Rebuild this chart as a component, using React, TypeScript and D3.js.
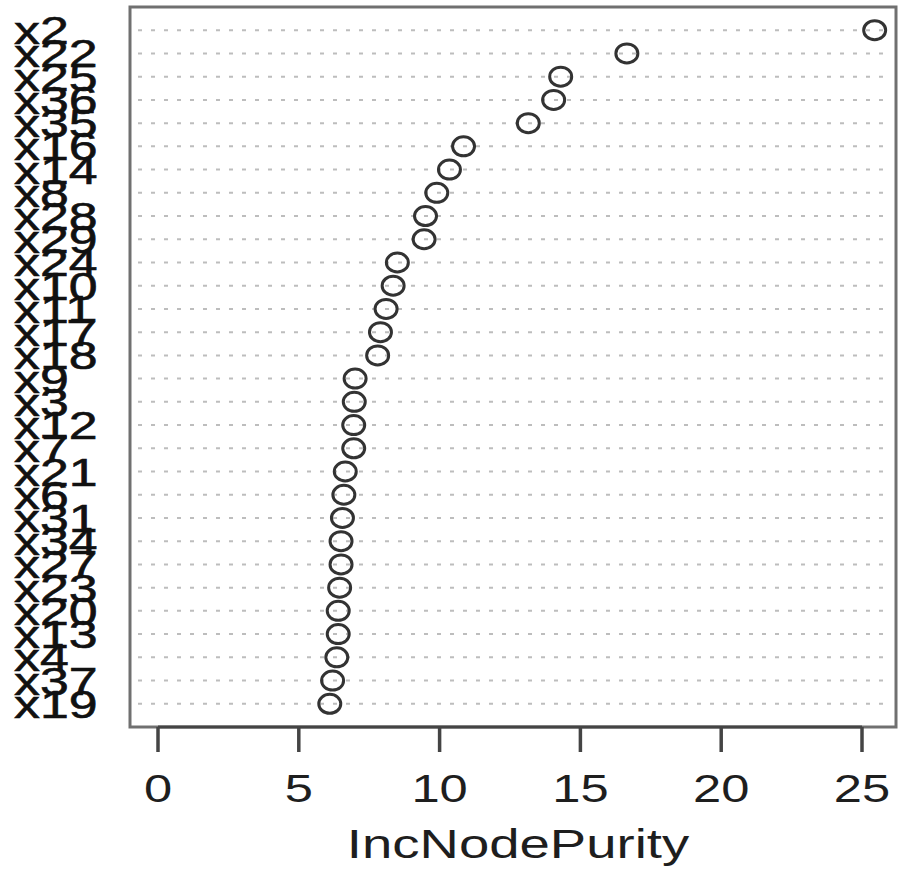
import React from "react";
import * as d3 from "d3";

// Variables in plotted order (top to bottom)
const variables = ["x2","x22","x25","x36","x35","x16","x14","x8","x28","x29","x24","x10","x11","x17","x18","x9","x3","x12","x7","x21","x6","x31","x34","x27","x23","x20","x13","x4","x37","x19"];
const purity = [25.45,16.65,14.3,14.05,13.15,10.85,10.35,9.9,9.5,9.45,8.5,8.35,8.1,7.9,7.8,7.0,6.97,6.95,6.95,6.65,6.6,6.55,6.5,6.5,6.45,6.4,6.4,6.35,6.2,6.1];
const xTicks = [0, 5, 10, 15, 20, 25];
const xTitle = "IncNodePurity";

const W = 901, H = 870;
const box = { left: 130, right: 896, top: 7, bottom: 727 };
const FONT = "'Liberation Sans', Arial, Helvetica, sans-serif";

export default function App() {
  const x = d3.scaleLinear().domain([0, 25]).range([158, 862]);
  const n = variables.length;
  const y = d3.scaleLinear().domain([0, n + 1]).range([box.bottom, box.top]);
  const rowY = (i: number) => y(n - i);

  return (
    <svg width={W} height={H} style={{ position: "absolute", left: 0, top: 0, background: "#fff" }}>
      {variables.map((v, i) => (
        <line key={"g" + v} x1={box.left + 8} x2={box.right - 6} y1={rowY(i)} y2={rowY(i)}
          stroke="#bdbdbd" strokeWidth={2} strokeDasharray="4,9" />
      ))}
      {variables.map((v, i) => (
        <ellipse key={"p" + v} cx={x(purity[i])} cy={rowY(i)} rx={11} ry={9.5}
          fill="none" stroke="#333" strokeWidth={3} />
      ))}
      <rect x={box.left} y={box.top} width={box.right - box.left} height={box.bottom - box.top}
        fill="none" stroke="#707070" strokeWidth={3} />
      <line x1={x(0)} x2={x(25)} y1={box.bottom} y2={box.bottom} stroke="#444" strokeWidth={3} />
      {xTicks.map((t) => (
        <g key={"t" + t}>
          <line x1={x(t)} x2={x(t)} y1={box.bottom} y2={752} stroke="#444" strokeWidth={3.5} />
          <text transform={`translate(${x(t)},802) scale(1.3,1)`} textAnchor="middle"
            fontFamily={FONT} fontSize={39} fill="#1e1e1e">{t}</text>
        </g>
      ))}
      <text transform={`translate(${(box.left + box.right) / 2 + 5},858) scale(1.33,1)`} textAnchor="middle"
        fontFamily={FONT} fontSize={41} fill="#1e1e1e">{xTitle}</text>
      {variables.map((v, i) => (
        <text key={"l" + v} transform={`translate(14,${rowY(i) + 14}) scale(1.33,1)`}
          fontFamily={FONT} fontSize={39} fill="#111" stroke="#111" strokeWidth={0.6}>{v}</text>
      ))}
    </svg>
  );
}
